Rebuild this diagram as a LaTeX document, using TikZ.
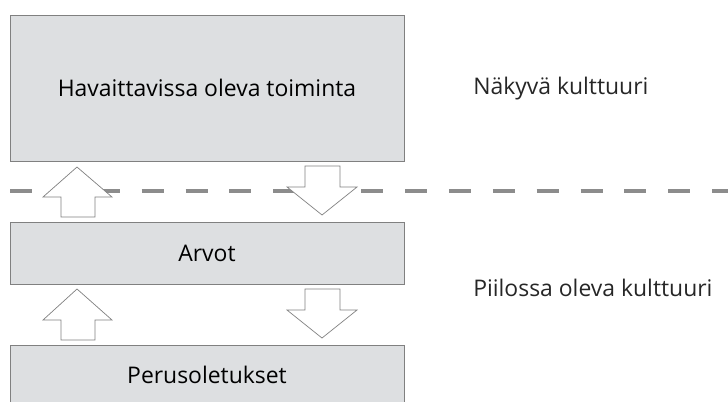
\documentclass[tikz,border=0pt]{standalone}
\usepackage{fontspec}
\setmainfont{Open Sans}
\usetikzlibrary{positioning}
\definecolor{boxgray}{RGB}{221,223,225}
\definecolor{linegray}{RGB}{128,128,128}
\definecolor{dashgray}{RGB}{140,140,140}
\tikzset{
  layer/.style={draw=linegray, fill=boxgray, line width=0.6pt, minimum width=9.85cm, inner sep=0pt, font=\fontsize{16.3}{19}\selectfont},
  side/.style={anchor=west, inner sep=0pt, font=\fontsize{16.3}{19}\selectfont, text=black!85},
  blockarrow/.style={draw=linegray, fill=white, line width=0.5pt, line join=miter}
}
\begin{document}
\begin{tikzpicture}[x=0.025cm, y=-0.025cm]
    \useasboundingbox (0,0) rectangle (728,401);
    % Kerrokset:
    \node[layer, minimum height=3.65cm] (toiminta) at (207,88) {Havaittavissa oleva toiminta};
    \node[layer, minimum height=1.55cm] (arvot) at (207,253) {Arvot};
    \node[layer, minimum height=1.75cm, text depth=0pt] (perus) at (207,380) {};
    \node (perusteksti) at (207,375) {\fontsize{16.3}{19}\selectfont Perusoletukset}; % Text im Bild
    % Trennlinie:
    \draw[dashgray, line width=2.9pt, dash pattern=on 0.55cm off 0.547cm] (10,191) -- (728,191);
    % Pfeile nach oben:
    \draw[blockarrow] (77,167) -- (112,197) -- (95,197) -- (95,217) -- (61,217) -- (61,197) -- (43,197) -- cycle; % erster Pfeil
    \draw[blockarrow] (77,289) -- (112,320) -- (95,320) -- (95,340) -- (61,340) -- (61,320) -- (43,320) -- cycle; % zweiter Pfeil
    % Pfeile nach unten:
    \draw[blockarrow] (322,215) -- (357,187) -- (340,187) -- (340,166) -- (305,166) -- (305,187) -- (287,187) -- cycle; % dritter Pfeil
    \draw[blockarrow] (322,338) -- (357,310) -- (340,310) -- (340,289) -- (305,289) -- (305,310) -- (287,310) -- cycle; % vierter Pfeil
    % Beschriftung rechts:
    \node[side] (naky) at (473,89) {Näkyvä kulttuuri};
    \node[side] (piilo) at (473,288) {Piilossa oleva kulttuuri};
\end{tikzpicture}
\end{document}
